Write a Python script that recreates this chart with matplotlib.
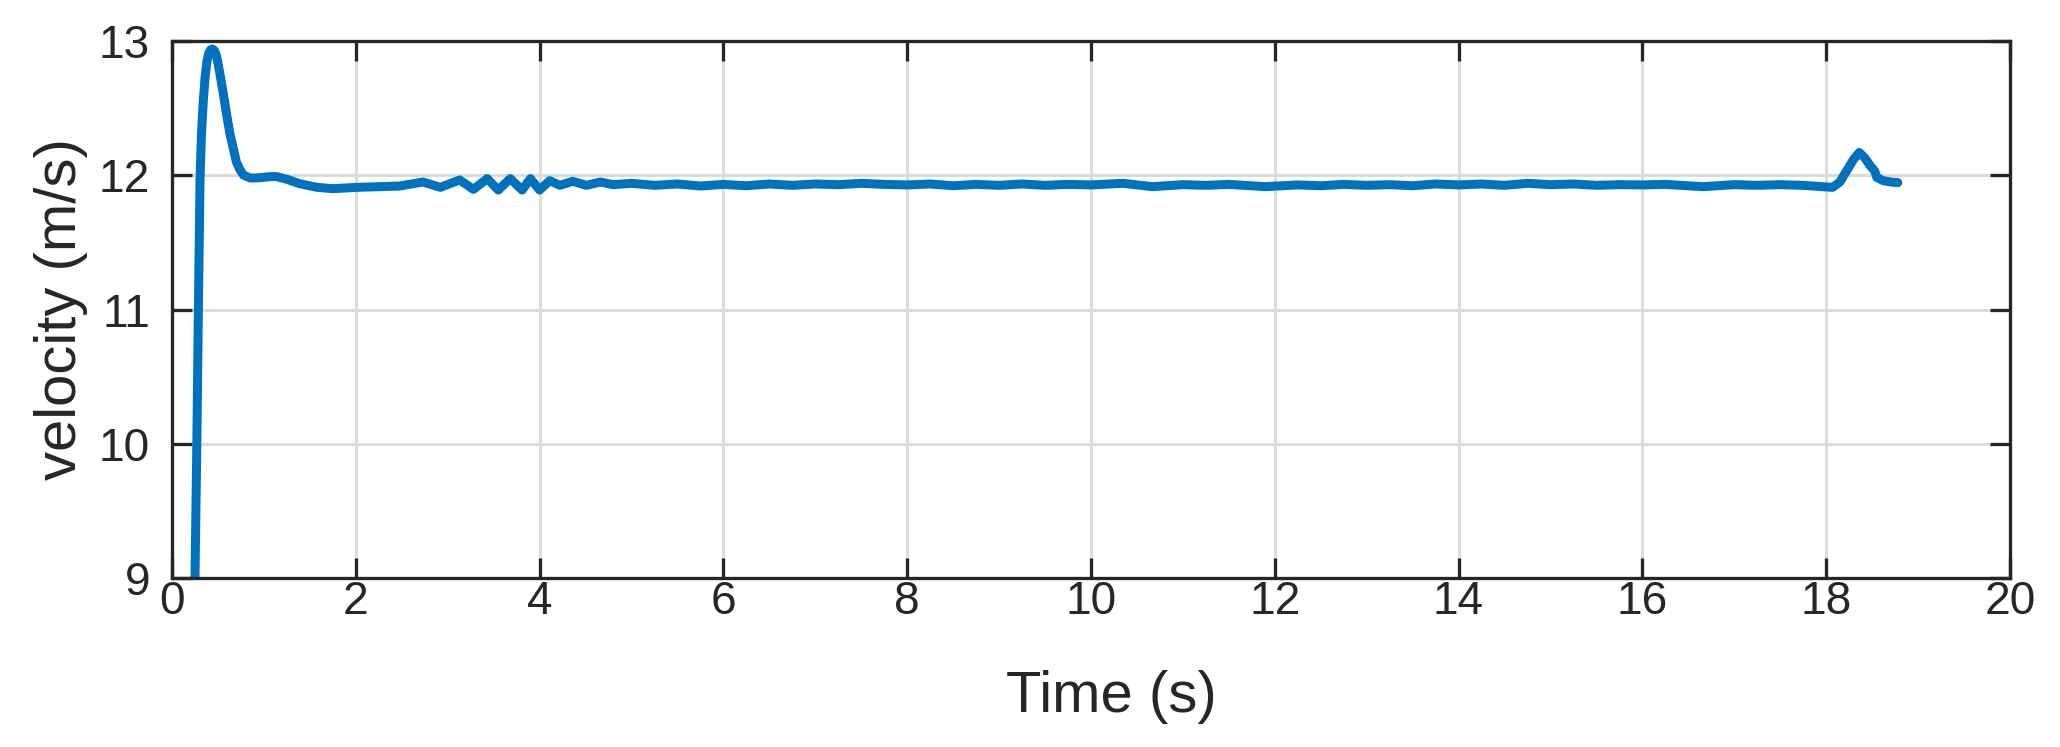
import matplotlib
matplotlib.use('Agg')
import matplotlib.pyplot as plt

plt.rcParams['font.family'] = ['Liberation Sans', 'DejaVu Sans']

# time (s) and velocity (m/s)
t = [0.25, 0.27, 0.287, 0.305, 0.32, 0.34, 0.36, 0.38, 0.40, 0.42, 0.44, 0.46, 0.48,
     0.505, 0.53, 0.56, 0.60, 0.63, 0.67, 0.70, 0.74, 0.78, 0.85, 0.92, 1.0, 1.07,
     1.14, 1.25, 1.39, 1.58, 1.75, 2.01, 2.25,
     2.48, 2.73, 2.92, 3.13, 3.28, 3.43, 3.55, 3.68, 3.81, 3.90, 4.0, 4.11,
     4.22, 4.36, 4.51, 4.66, 4.80, 5.0, 5.25, 5.5, 5.75, 6.0, 6.25, 6.5, 6.75,
     7.0, 7.25, 7.5, 7.75, 8.0, 8.25, 8.5, 8.75, 9.0, 9.25, 9.5, 9.75, 10.0,
     10.35, 10.67, 11.0, 11.25, 11.5, 11.9, 12.25, 12.5, 12.75, 13.0, 13.25,
     13.5, 13.75, 14.0, 14.25, 14.5, 14.75, 15.0, 15.25, 15.5, 15.75, 16.0,
     16.25, 16.66, 17.0, 17.25, 17.5, 17.75, 18.07, 18.15, 18.22, 18.30, 18.36,
     18.42, 18.48, 18.53, 18.55, 18.62, 18.70, 18.78]
v = [9.0, 10.0, 11.0, 11.97, 12.3, 12.55, 12.73, 12.85, 12.91, 12.935, 12.94, 12.93, 12.9,
     12.82, 12.72, 12.6, 12.43, 12.31, 12.19, 12.10, 12.04, 12.0, 11.98, 11.98, 11.985, 11.99,
     11.99, 11.97, 11.937, 11.91, 11.90, 11.91, 11.915,
     11.92, 11.95, 11.91, 11.965, 11.895, 11.975, 11.89, 11.975, 11.89, 11.975, 11.89, 11.96,
     11.925, 11.955, 11.925, 11.95, 11.93, 11.94, 11.925, 11.935, 11.92, 11.932, 11.922, 11.935, 11.925,
     11.935, 11.93, 11.94, 11.932, 11.928, 11.935, 11.922, 11.932, 11.925, 11.935, 11.925, 11.932, 11.928,
     11.94, 11.915, 11.93, 11.925, 11.932, 11.915, 11.928, 11.922, 11.932, 11.925, 11.93,
     11.922, 11.935, 11.928, 11.935, 11.925, 11.94, 11.93, 11.935, 11.925, 11.93, 11.928,
     11.932, 11.915, 11.93, 11.925, 11.93, 11.925, 11.91, 11.95, 12.03, 12.12, 12.17,
     12.13, 12.07, 12.03, 11.985, 11.96, 11.95, 11.945]

xticks = [0, 2, 4, 6, 8, 10, 12, 14, 16, 18, 20]
yticks = [9, 10, 11, 12, 13]

fig = plt.figure(figsize=(2060 / 72, 747 / 72), dpi=72)
ax = fig.add_axes([0.0835, 0.2262, 0.8922, 0.7189])

ax.plot(t, v, color='#0072BD', linewidth=9, solid_joinstyle='round',
        solid_capstyle='round', zorder=3)

ax.set_xlim(0, 20)
ax.set_ylim(9, 13)
ax.set_xticks(xticks)
ax.set_yticks(yticks)
ax.grid(True, color='#dcdcdc', linewidth=3, zorder=0)
ax.set_axisbelow(True)

for s in ax.spines.values():
    s.set_color('#262626')
    s.set_linewidth(3.3)
    s.set_zorder(4)
ax.tick_params(direction='in', length=20, width=3.3, color='#262626',
               labelsize=46, labelcolor='#262626', top=True, right=True)
ax.tick_params(axis='x', pad=2)
ax.tick_params(axis='y', pad=22)

ax.set_xlabel('Time (s)', fontsize=58, color='#262626')
ax.set_ylabel('velocity (m/s)', fontsize=58, color='#262626')
ax.xaxis.set_label_coords(0.511, -0.2215)
ax.xaxis.label.set_va('center')
ax.yaxis.set_label_coords(-0.0604, 0.5)
ax.yaxis.label.set_va('center')

fig.savefig('out.png', dpi=72)
